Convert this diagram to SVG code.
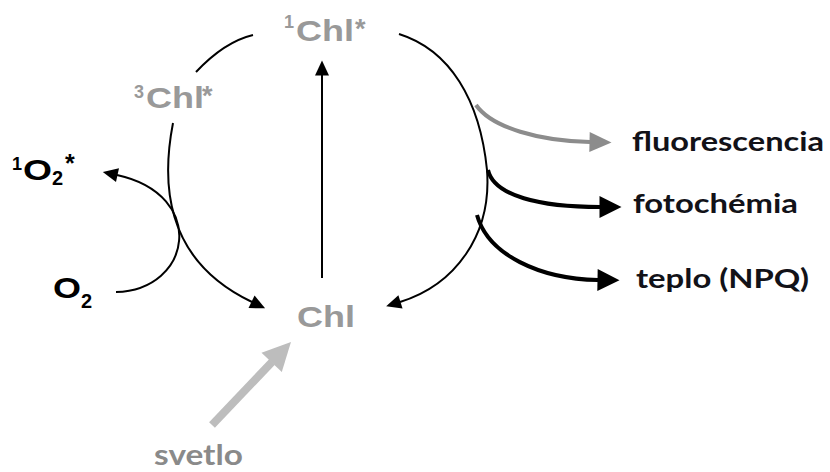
<svg xmlns="http://www.w3.org/2000/svg" width="830" height="472" viewBox="0 0 830 472">
<style>
.chl{font-family:"Liberation Sans",Arial,sans-serif;font-weight:bold;fill:#999999}
.ox{font-family:"Liberation Sans",Arial,sans-serif;font-weight:bold;fill:#000000}
.out{font-family:Lato,"Liberation Sans",sans-serif;font-weight:bold;fill:#121218}
.thin{fill:none;stroke:#000;stroke-width:2}
.thick{fill:none;stroke:#000;stroke-width:4}
</style>
<defs>
<marker id="ahS" markerUnits="userSpaceOnUse" markerWidth="16" markerHeight="16" refX="0.5" refY="7" orient="auto" overflow="visible"><path d="M0,0 L15,7 L0,14 z" fill="#000"/></marker>
<marker id="ahB" markerUnits="userSpaceOnUse" markerWidth="24" markerHeight="24" refX="0.5" refY="11" orient="auto" overflow="visible"><path d="M0,0 L22,11 L0,22 z" fill="#000"/></marker>
<marker id="ahG" markerUnits="userSpaceOnUse" markerWidth="24" markerHeight="24" refX="0.5" refY="10" orient="auto" overflow="visible"><path d="M0,0 L22,10 L0,20 z" fill="#8c8c8c"/></marker>
<marker id="ahL" markerUnits="userSpaceOnUse" markerWidth="30" markerHeight="30" refX="0.5" refY="14" orient="auto" overflow="visible"><path d="M0,0 L28,14 L0,28 z" fill="#bdbdbd"/></marker>
</defs>
<g id="connectors">
<path class="thin" d="M196,72 C212,55 232,40 253,35"/>
<path class="thin" d="M173,123 C160,190 168,262 252,302" marker-end="url(#ahS)"/>
<path class="thin" d="M399,34 C450,50 480,100 487,170 C492,235 455,285 400,302" marker-end="url(#ahS)"/>
<path class="thin" d="M322,278 L322,75" marker-end="url(#ahS)"/>
<path class="thin" d="M116,292 C192,290 208,195 117,175" marker-end="url(#ahS)"/>
<path class="thick" style="stroke:#8c8c8c" d="M476,105 C492,128 540,141 590,142" marker-end="url(#ahG)"/>
<path class="thick" d="M488,170 C494,196 540,207 600,207" marker-end="url(#ahB)"/>
<path class="thick" d="M477,215 C488,255 540,279 598,280" marker-end="url(#ahB)"/>
<path fill="none" stroke="#bdbdbd" stroke-width="8" d="M212,425 L272,362" marker-end="url(#ahL)"/>
</g>
<g id="chl1">
<text class="chl" x="284" y="28" font-size="18">1</text>
<text class="chl" x="296" y="41" font-size="30" textLength="58" lengthAdjust="spacingAndGlyphs">Chl</text>
<text class="chl" x="355" y="38" font-size="27">*</text>
</g>
<g id="chl3">
<text class="chl" x="134" y="98" font-size="18">3</text>
<text class="chl" x="146" y="108" font-size="30" textLength="58" lengthAdjust="spacingAndGlyphs">Chl</text>
<text class="chl" x="202" y="105" font-size="27">*</text>
</g>
<g id="chl">
<text class="chl" x="297" y="327" font-size="30" textLength="58" lengthAdjust="spacingAndGlyphs">Chl</text>
</g>
<g id="o2star">
<text class="ox" x="12" y="170" font-size="18">1</text>
<text class="ox" x="23" y="180" font-size="30" textLength="29" lengthAdjust="spacingAndGlyphs">O</text>
<text class="ox" x="52" y="185" font-size="20">2</text>
<text class="ox" x="65" y="172" font-size="25">*</text>
</g>
<g id="o2">
<text class="ox" x="53" y="298" font-size="30" textLength="28" lengthAdjust="spacingAndGlyphs">O</text>
<text class="ox" x="81" y="308" font-size="20">2</text>
</g>
<g id="fluorescencia">
<text class="out" x="632" y="151" font-size="27" textLength="192" lengthAdjust="spacingAndGlyphs">fluorescencia</text>
</g>
<g id="fotochemia">
<text class="out" x="633" y="213" font-size="27" textLength="165" lengthAdjust="spacingAndGlyphs">fotochémia</text>
</g>
<g id="teplo">
<text class="out" x="636" y="288" font-size="27" textLength="173" lengthAdjust="spacingAndGlyphs">teplo (NPQ)</text>
</g>
<g id="svetlo">
<text class="out" x="154" y="465" font-size="28" style="fill:#8a8a8a" textLength="89" lengthAdjust="spacingAndGlyphs">svetlo</text>
</g>
</svg>
